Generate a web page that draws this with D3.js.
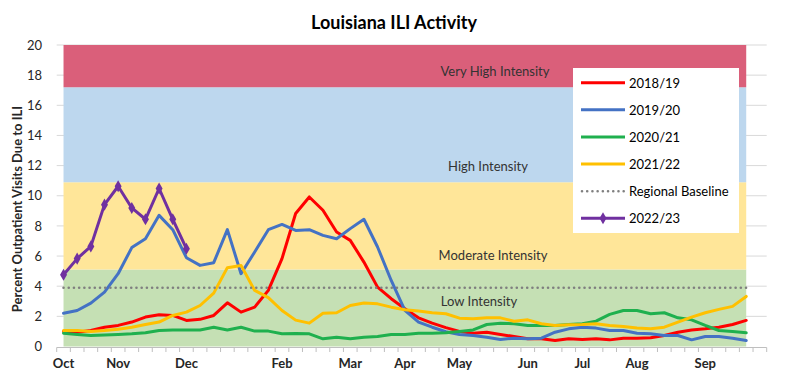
<!DOCTYPE html>
<html><head><meta charset="utf-8">
<script src="https://cdn.jsdelivr.net/npm/d3@7"></script>
<style>
html,body{margin:0;padding:0;background:#fff;}
svg{display:block;font-family:Lato,"Open Sans",sans-serif;}
</style></head>
<body>
<svg id="chart" width="787" height="383"></svg>
<script>
// ---- data ----
const weeks = ["40","41","42","43","44","45","46","47","48","49","50","51","52",
  "1","2","3","4","5","6","7","8","9","10","11","12","13","14","15","16","17","18","19","20",
  "21","22","23","24","25","26","27","28","29","30","31","32","33","34","35","36","37","38","39"];
const tickLabels = ["Oct","","","","Nov","","","","","Dec","","","","","","","Feb","","","","","Mar","","","","Apr","","","","May","","","","","Jun","","","","Jul","","","","Aug","","","","","Sep","","","",""];
const seriesNames = ["2018/19","2019/20","2020/21","2021/22","Regional Baseline","2022/23"];
const s2018 = [1.0,0.95,1.06,1.28,1.4,1.62,1.95,2.1,2.06,1.73,1.8,2.06,2.9,2.28,2.61,3.72,5.83,8.82,9.92,9.04,7.6,7.04,5.6,3.94,3.17,2.5,1.9,1.55,1.25,1.0,0.88,0.95,0.8,0.66,0.51,0.51,0.4,0.51,0.47,0.51,0.44,0.55,0.55,0.58,0.73,0.95,1.1,1.17,1.28,1.46,1.73];
const s2019 = [2.21,2.39,2.88,3.61,4.83,6.56,7.15,8.7,7.75,5.89,5.38,5.56,7.75,4.83,6.27,7.75,8.1,7.7,7.75,7.37,7.15,7.82,8.44,6.6,4.38,2.39,1.62,1.28,0.98,0.8,0.73,0.62,0.47,0.55,0.51,0.55,0.95,1.17,1.28,1.22,1.06,1.06,0.88,0.84,0.73,0.73,0.44,0.66,0.66,0.55,0.4];
const s2020 = [0.88,0.8,0.73,0.77,0.8,0.84,0.91,1.06,1.1,1.1,1.1,1.28,1.1,1.28,1.02,1.02,0.84,0.86,0.84,0.51,0.62,0.51,0.62,0.66,0.8,0.8,0.88,0.88,0.92,1.0,1.1,1.46,1.55,1.51,1.4,1.4,1.4,1.46,1.51,1.68,2.13,2.39,2.39,2.17,2.24,1.9,1.77,1.4,1.06,1.0,0.91];
const s2021 = [1.06,1.06,1.0,1.06,1.15,1.28,1.46,1.62,2.06,2.28,2.72,3.54,5.23,5.38,3.72,3.24,2.39,1.75,1.55,2.2,2.24,2.72,2.88,2.83,2.61,2.44,2.35,2.24,2.17,1.88,1.84,1.9,1.9,1.68,1.77,1.51,1.4,1.44,1.46,1.51,1.4,1.33,1.22,1.17,1.28,1.62,1.95,2.24,2.46,2.66,3.32];
const s2022 = [4.76,5.83,6.64,9.41,10.63,9.19,8.44,10.48,8.44,6.49];
const baselineValue = 3.9;
const bandNames = ["Low Intensity","Moderate Intensity","High Intensity","Very High Intensity"];
const bandLower = [0, 5.1, 10.9, 17.2];
const bandUpper = [5.1, 10.9, 17.2, 20];
const yTicks = [0,2,4,6,8,10,12,14,16,18,20];

// ---- styles ----
const bandColors = ["#C5E0B4","#FFE699","#BDD7EE","#DA5F7A"];
const lineColors = ["#FF0000","#4472C4","#1FB04E","#FFC000","#7F7F7F","#7030A0"];

const svg = d3.select("#chart");
const x = d3.scaleBand().domain(weeks).range([56.7, 766.7]).padding(0);
const cx = w => x(w) + x.bandwidth()/2;
const y = d3.scaleLinear().domain([0,20]).range([346.5, 45]);
const nPts = s2018.length;
const bandWeeks = weeks.slice(0, nPts);

// gridlines
svg.append("g").selectAll("line").data(yTicks.filter(d=>d>0)).join("line")
  .attr("x1", 56.7).attr("x2", 766.7)
  .attr("y1", d=>y(d)).attr("y2", d=>y(d))
  .attr("stroke","#D9D9D9").attr("stroke-width",1);

// bands
const area = d3.area().x(d=>cx(d.w)).y0(d=>y(d.lo)).y1(d=>y(d.hi));
bandNames.forEach((n,i)=>{
  svg.append("path")
    .datum(bandWeeks.map(w=>({w, lo:bandLower[i], hi:bandUpper[i]})))
    .attr("d", area).attr("fill", bandColors[i]);
});

// band labels
const bandLabelX = [479, 493, 488, 495];
const bandLabelY = [301, 255, 166, 71];
bandNames.forEach((n,i)=>{
  svg.append("text").attr("x", bandLabelX[i]).attr("y", bandLabelY[i])
    .attr("text-anchor","middle").attr("dominant-baseline","central")
    .attr("font-size",13).attr("fill","#333").text(n);
});

// x axis
svg.append("line").attr("x1",56.7).attr("x2",766.7).attr("y1",347.5).attr("y2",347.5)
  .attr("stroke","#BFBFBF").attr("stroke-width",1);
const bounds = weeks.map(w=>x(w)).concat([x(weeks[weeks.length-1])+x.bandwidth()]);
svg.append("g").selectAll("line").data(bounds).join("line")
  .attr("x1",d=>d).attr("x2",d=>d).attr("y1",347.5).attr("y2",352)
  .attr("stroke","#BFBFBF").attr("stroke-width",1);
const xAxis = d3.axisBottom(x).tickSize(0).tickPadding(0)
  .tickFormat((d,i)=>tickLabels[i]);
const gx = svg.append("g").attr("transform","translate(0,357)").call(xAxis);
gx.select(".domain").remove();
gx.selectAll("text").attr("font-family","Lato, sans-serif").attr("font-size",13)
  .attr("font-weight","bold").attr("fill","#262626").attr("dy","0.85em");

// y axis
const yAxis = d3.axisLeft(y).tickValues(yTicks).tickSize(0).tickPadding(0);
const gy = svg.append("g").attr("transform","translate(42,0)").call(yAxis);
gy.select(".domain").remove();
gy.selectAll("text").attr("font-family","Lato, sans-serif").attr("font-size",13)
  .attr("fill","#262626");

// y title
svg.append("text").attr("transform","translate(17,209) rotate(-90)")
  .attr("text-anchor","middle").attr("dominant-baseline","central")
  .attr("font-size",13).attr("font-weight","bold").attr("fill","#262626")
  .text("Percent Outpatient Visits Due to ILI");

// title
svg.append("text").attr("x",394).attr("y",22).attr("text-anchor","middle")
  .attr("dominant-baseline","central").attr("font-size",18).attr("font-weight","bold")
  .attr("fill","#000").text("Louisiana ILI Activity");

// lines
const line = d3.line().x((d,i)=>cx(weeks[i])).y(d=>y(d));
const seriesData = [s2018, s2019, s2020, s2021];
seriesData.forEach((s,i)=>{
  svg.append("path").datum(s).attr("d", line).attr("fill","none")
    .attr("stroke", lineColors[i]).attr("stroke-width",3)
    .attr("stroke-linejoin","round").attr("stroke-linecap","round");
});
// baseline
svg.append("path").datum(bandWeeks.map(()=>baselineValue)).attr("d", line)
  .attr("fill","none").attr("stroke", lineColors[4]).attr("stroke-width",2.6)
  .attr("stroke-dasharray","0.01 5.2").attr("stroke-linecap","round");
// 2022/23
svg.append("path").datum(s2022).attr("d", line).attr("fill","none")
  .attr("stroke", lineColors[5]).attr("stroke-width",3).attr("stroke-linejoin","round");
const diamond = d3.symbol().type(d3.symbolDiamond).size(42);
svg.append("g").selectAll("path").data(s2022).join("path")
  .attr("d", diamond)
  .attr("transform",(d,i)=>`translate(${cx(weeks[i])},${y(d)})`)
  .attr("fill", lineColors[5]);

// legend
const lg = svg.append("g");
lg.append("rect").attr("x",573).attr("y",68).attr("width",166).attr("height",165).attr("fill","#fff");
const rowY = d3.scaleLinear().domain([0,5]).range([82.7, 218.3]);
seriesNames.forEach((n,i)=>{
  const yy = rowY(i);
  const l = lg.append("line").attr("x1",581).attr("x2",625).attr("y1",yy).attr("y2",yy)
    .attr("stroke", lineColors[i]).attr("stroke-width", i===4 ? 2.6 : 3);
  if (i===4) l.attr("stroke-dasharray","0.01 5.2").attr("stroke-linecap","round").attr("x1",582);
  if (i===5) lg.append("path").attr("d", diamond).attr("transform",`translate(603,${yy})`).attr("fill", lineColors[i]);
  lg.append("text").attr("x",629).attr("y",yy).attr("dominant-baseline","central")
    .attr("font-size",13).attr("fill","#000").text(n);
});
</script>
</body></html>
